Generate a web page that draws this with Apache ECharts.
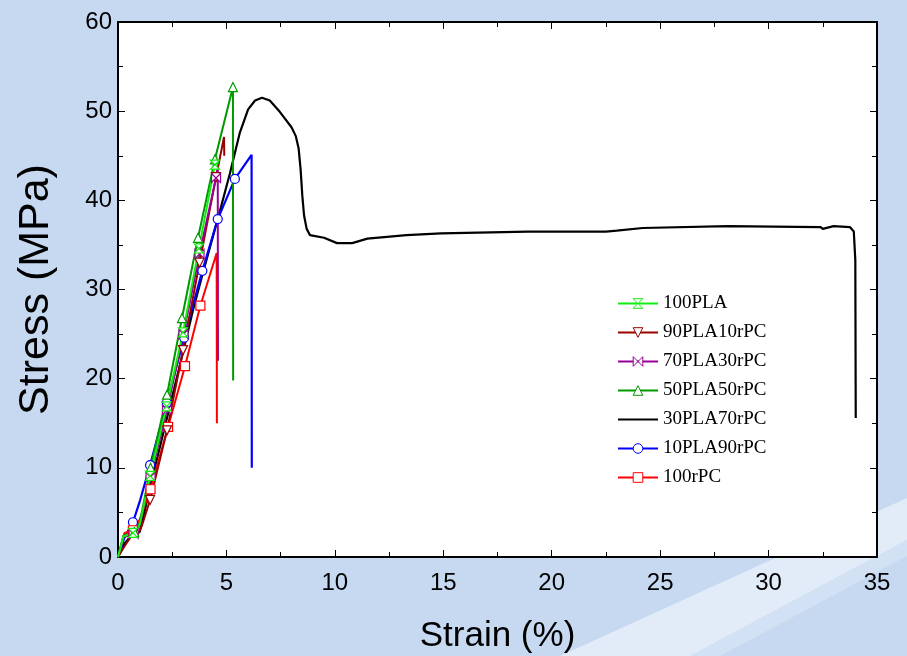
<!DOCTYPE html>
<html>
<head>
<meta charset="utf-8">
<script src="https://cdn.jsdelivr.net/npm/echarts@6/dist/echarts.min.js"></script>
<style>
  html, body { margin: 0; padding: 0; background: #c6d9f1; }
  #chart { width: 907px; height: 656px; }
</style>
</head>
<body>
<div id="chart"></div>
<script>
// [strain %, stress MPa, marker?]
const pla100 = [[0,0,0],[0.25,2.3,0],[0.69,2.7,1],[1.0,3.6,0],[1.48,9.1,1],[2.24,16.9,1],[3.0,25.2,1],[3.73,34.6,1],[4.47,44.0,1],[4.55,45.0,0]]
const pla90 = [[0,0,0],[0.3,1.2,0],[0.6,2.3,0],[0.9,2.5,0],[1.1,3.5,0],[1.48,6.4,1],[2.26,14.2,1],[3.0,23.2,1],[3.76,33.0,1],[4.52,42.6,1],[4.89,47.1,0],[4.9,45.0,0]]
const pla70 = [[0,0,0],[0.25,2.2,0],[0.72,2.6,1],[1.0,3.6,0],[1.5,9.0,1],[2.26,16.5,1],[3.02,25.0,1],[3.76,34.0,1],[4.52,42.5,1],[4.6,43.7,0],[4.61,22.0,0]]
const pla50 = [[0,0,0],[0.25,2.4,0],[0.75,2.8,1],[1.0,3.8,0],[1.5,10.0,1],[2.26,18.2,1],[2.95,26.8,1],[3.69,35.8,1],[4.47,44.6,1],[5.3,52.7,1],[5.31,19.8,0]]
const pla30 = [[0,0],[0.3,1.5],[0.6,2.4],[1.0,2.8],[1.5,8.0],[2.0,13.0],[2.5,18.0],[3.0,23.0],[3.46,27.7],[3.93,32.0],[4.61,38.0],[5.16,43.0],[5.62,47.6],[6.0,50.2],[6.32,51.2],[6.64,51.5],[7.0,51.2],[7.47,49.9],[8.0,48.2],[8.2,47.2],[8.33,45.8],[8.42,43.5],[8.5,40.5],[8.58,38.3],[8.7,36.8],[8.85,36.1],[9.5,35.8],[10.1,35.2],[10.8,35.2],[11.5,35.7],[13.3,36.1],[14.9,36.3],[18.9,36.5],[22.5,36.5],[23.0,36.6],[24.2,36.9],[28.1,37.1],[32.4,37.0],[32.5,36.8],[33.0,37.1],[33.75,37.0],[33.93,36.5],[34.0,33.3],[34.02,15.6]]
const pla10 = [[0,0,0],[0.3,2.2,0],[0.69,3.9,1],[1.0,6.2,0],[1.48,10.3,1],[2.25,17.3,1],[3.05,24.6,1],[3.89,32.1,1],[4.6,37.9,1],[5.39,42.4,1],[6.16,45.1,0],[6.17,10.0,0]]
const rpc100 = [[0,0,0],[0.3,2.7,0],[0.69,3.0,1],[1.0,4.2,0],[1.5,7.6,1],[2.31,14.6,1],[3.09,21.4,1],[3.8,28.2,1],[4.55,34.1,0],[4.56,15.0,0]]

const names = ['100PLA', '90PLA10rPC', '70PLA30rPC', '50PLA50rPC', '30PLA70rPC', '10PLA90rPC', '100rPC']
const xTicks = { min: 0, max: 35, step: 5 }
const yTicks = { min: 0, max: 60, step: 10 }

const hourglass = 'path://M0,0 L10,0 L0,10 L10,10 Z'
const bowtie = 'path://M0,0 L0,10 L10,0 L10,10 Z'
const downTri = 'path://M0,0 L10,0 L5,9 Z'

const toData = pts => pts.map(p => p[2] ? [p[0], p[1]] : { value: [p[0], p[1]], symbol: 'none' })

const mk = (name, pts, color, symbol, width) => ({
  name,
  type: 'line',
  data: toData(pts),
  symbol,
  symbolSize: 9,
  showSymbol: true,
  animation: false,
  lineStyle: { color, width: width || 2 },
  itemStyle: { color: '#fff', borderColor: color, borderWidth: 1.2 }
})

const chart = echarts.init(document.getElementById('chart'))
const axisFont = { fontFamily: 'Liberation Sans, Arial, sans-serif', color: '#000' }
const tickStyle = {
  axisLine: { onZero: false, lineStyle: { color: '#000', width: 2 } },
  axisTick: { inside: true, length: 7, lineStyle: { color: '#000' } },
  minorTick: { show: true, splitNumber: 2, length: 5, lineStyle: { color: '#000' } },
  splitLine: { show: false }
}

chart.setOption({
  backgroundColor: '#c6d9f1',
  // slide background streak, bottom right
  graphic: [{
    type: 'polygon', z: -10, silent: true,
    shape: { points: [[560, 656], [907, 498], [907, 540], [690, 656]] },
    style: { fill: 'rgba(235,242,250,0.75)' }
  }, {
    type: 'polygon', z: -10, silent: true,
    shape: { points: [[690, 656], [907, 540], [907, 556], [720, 656]] },
    style: { fill: 'rgba(215,228,244,0.7)' }
  }],
  grid: {
    left: 118, right: 30, top: 22, bottom: 99, outerBoundsMode: 'none',
    show: true, backgroundColor: '#fff', borderWidth: 0
  },
  legend: {
    orient: 'vertical',
    left: 612,
    top: 289,
    itemWidth: 40,
    itemHeight: 12,
    itemGap: 10,
    data: names,
    textStyle: { fontFamily: 'Liberation Serif, Times New Roman, serif', fontSize: 19, color: '#000' },
    itemStyle: { borderWidth: 1 }
  },
  xAxis: [{
    type: 'value', min: xTicks.min, max: xTicks.max, interval: xTicks.step,
    name: 'Strain (%)', nameLocation: 'middle', nameGap: 62,
    nameTextStyle: { ...axisFont, fontSize: 35 },
    axisLabel: { ...axisFont, fontSize: 24, margin: 14 },
    ...tickStyle
  }, {
    type: 'value', position: 'top', min: xTicks.min, max: xTicks.max, interval: xTicks.step,
    axisLabel: { show: false },
    ...tickStyle
  }],
  yAxis: [{
    type: 'value', min: yTicks.min, max: yTicks.max, interval: yTicks.step,
    name: 'Stress (MPa)', nameLocation: 'middle', nameGap: 60,
    nameTextStyle: { ...axisFont, fontSize: 43 },
    axisLabel: { ...axisFont, fontSize: 24, margin: 6 },
    ...tickStyle
  }, {
    type: 'value', position: 'right', min: yTicks.min, max: yTicks.max, interval: yTicks.step,
    axisLabel: { show: false },
    ...tickStyle
  }],
  series: [
    mk('30PLA70rPC', pla30.map(p => [p[0], p[1], 0]), '#000', 'line', 2.2),
    mk('10PLA90rPC', pla10, '#0000ff', 'circle', 2.2),
    mk('100rPC', rpc100, '#ff0000', 'rect'),
    mk('90PLA10rPC', pla90, '#990000', downTri),
    mk('70PLA30rPC', pla70, '#990099', bowtie),
    mk('50PLA50rPC', pla50, '#009900', 'triangle'),
    mk('100PLA', pla100, '#11ee11', hourglass)
  ]
})
</script>
</body>
</html>
